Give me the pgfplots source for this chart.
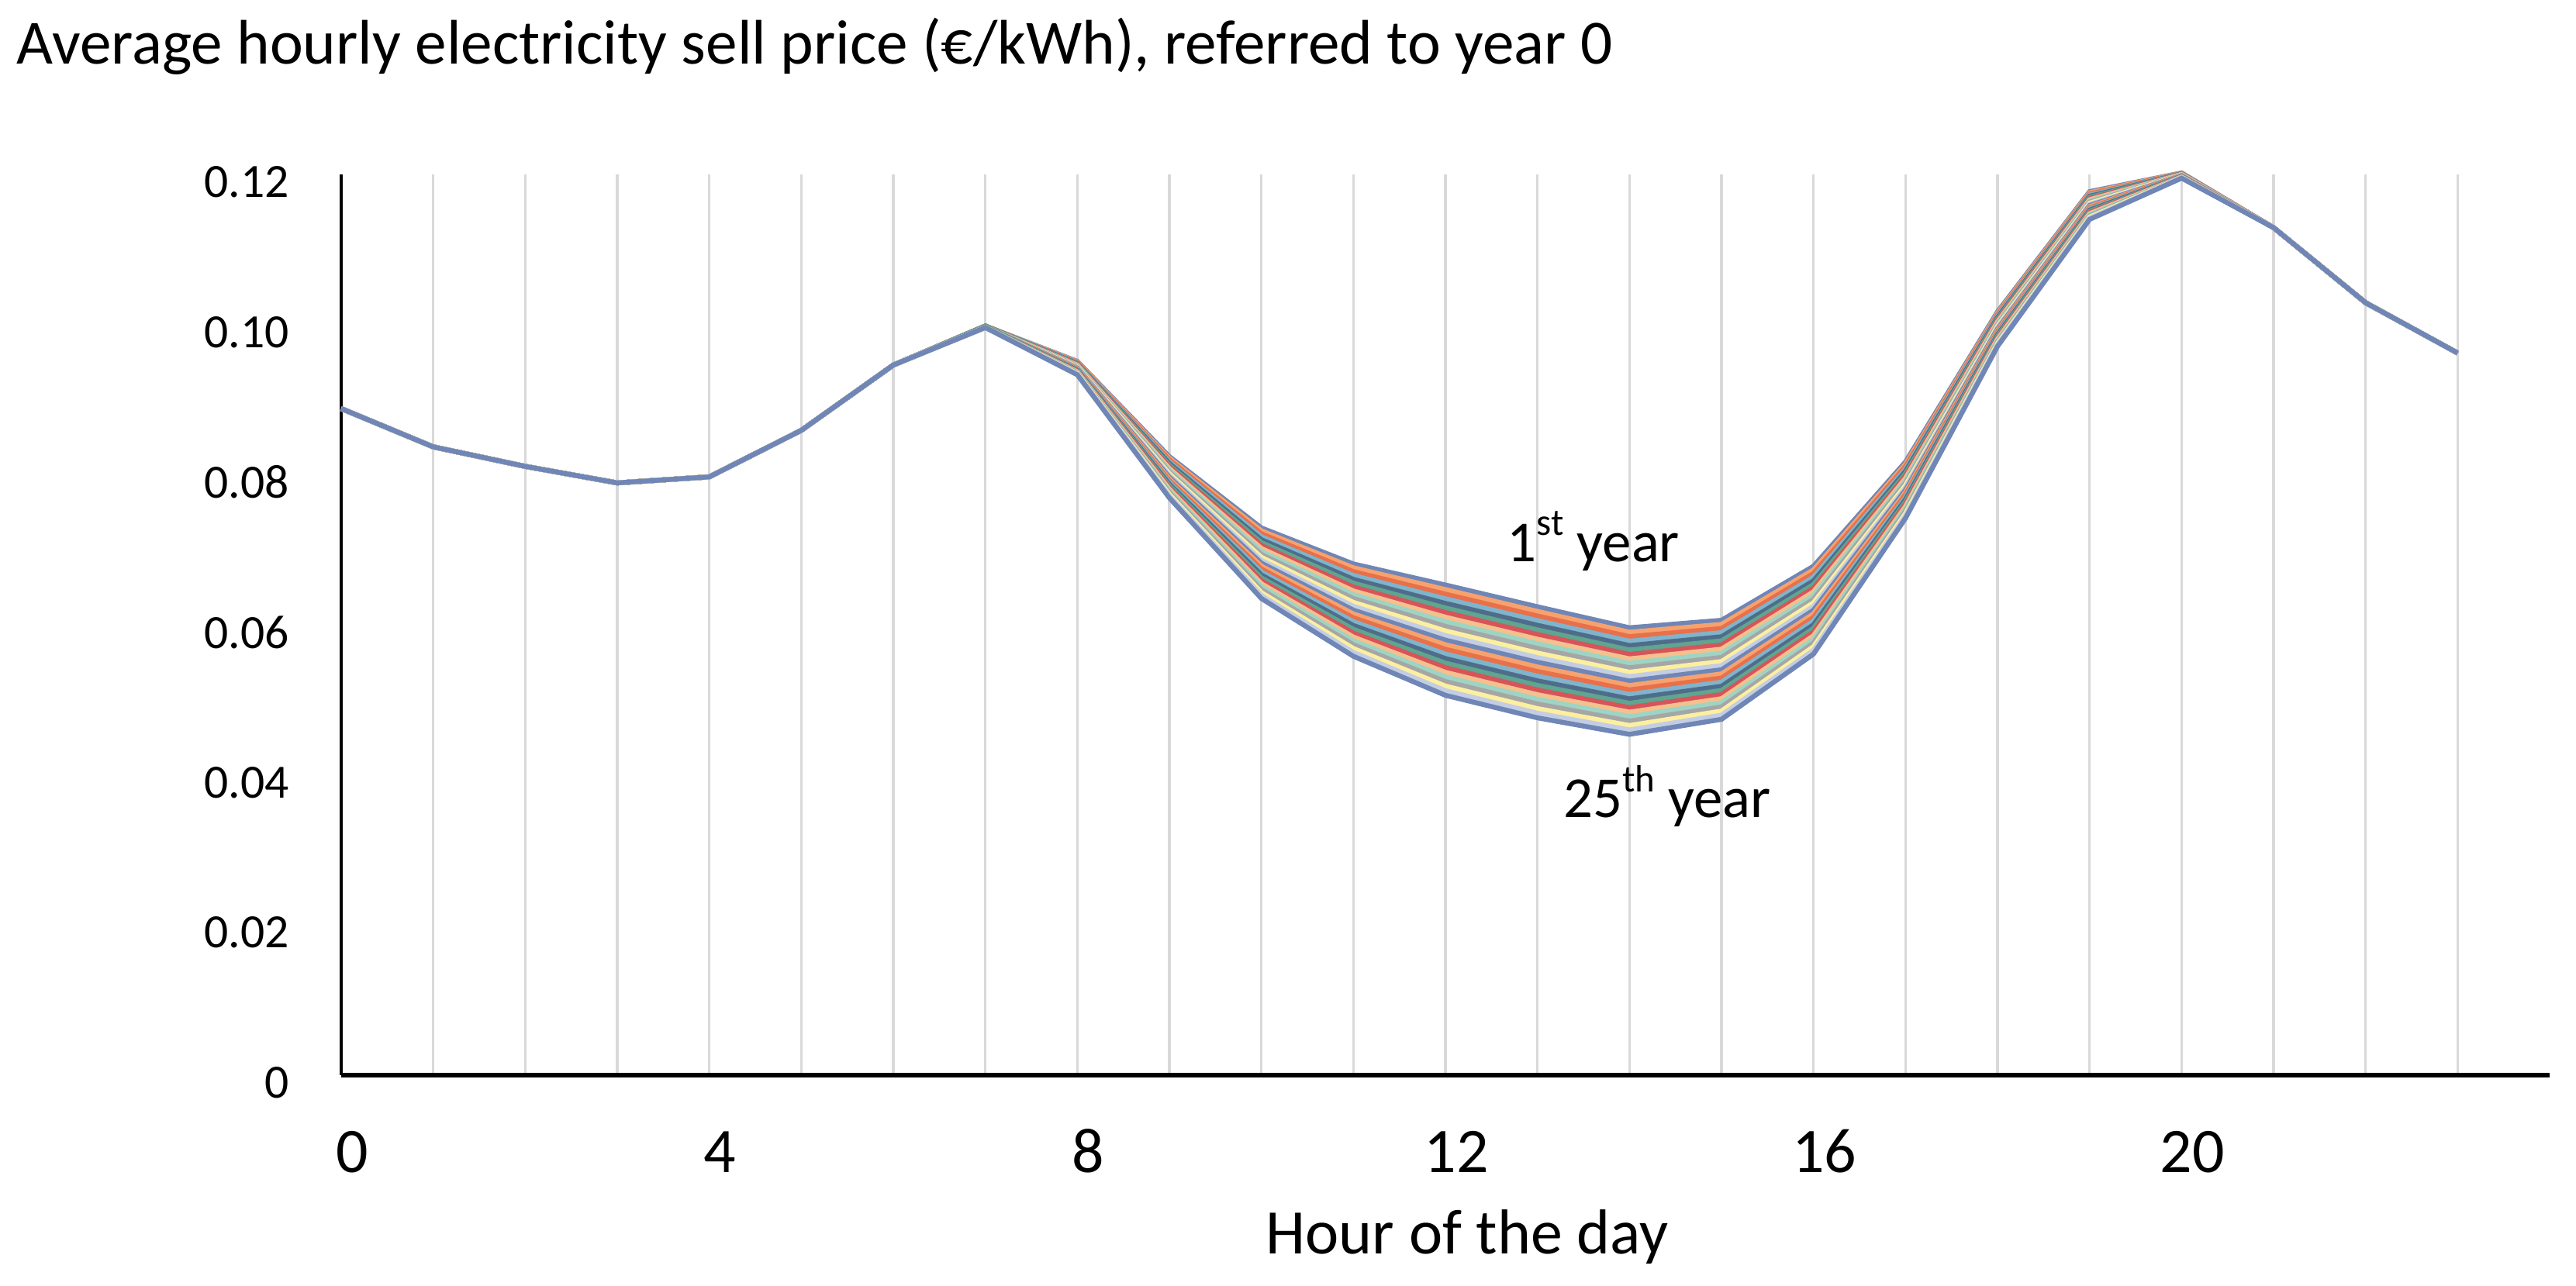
\documentclass[border=0pt]{standalone}
\usepackage{fontspec}
\setmainfont{Carlito}
\usepackage{pgfplots}
\usepackage{pgfplotstable}
\pgfplotsset{compat=1.18}

% line colours, they repeat every 12 years
\definecolor{c1}{HTML}{6F86B6}
\definecolor{c2}{HTML}{F7A26E}
\definecolor{c3}{HTML}{E8704A}
\definecolor{c4}{HTML}{7FB4CC}
\definecolor{c5}{HTML}{4F6D8A}
\definecolor{c6}{HTML}{5FA58F}
\definecolor{c7}{HTML}{D6545A}
\definecolor{c8}{HTML}{F5C08E}
\definecolor{c9}{HTML}{9ED4C4}
\definecolor{c10}{HTML}{A6A6A6}
\definecolor{c11}{HTML}{FCEFA0}
\definecolor{c12}{HTML}{C3CDE3}
\definecolor{gridgray}{HTML}{D9D9D9}

\pgfplotscreateplotcyclelist{yearcols}{c1\\c2\\c3\\c4\\c5\\c6\\c7\\c8\\c9\\c10\\c11\\c12\\}

% hourly price (EUR/kWh), one column per year (y1 = 1st year ... y25 = 25th year)
\pgfplotstableread{
h y1 y2 y3 y4 y5 y6 y7 y8 y9 y10 y11 y12 y13 y14 y15 y16 y17 y18 y19 y20 y21 y22 y23 y24 y25
0 0.0888 0.0888 0.0888 0.0888 0.0888 0.0888 0.0888 0.0888 0.0888 0.0888 0.0888 0.0888 0.0888 0.0888 0.0888 0.0888 0.0888 0.0888 0.0888 0.0888 0.0888 0.0888 0.0888 0.0888 0.0888
1 0.0837 0.0837 0.0837 0.0837 0.0837 0.0837 0.0837 0.0837 0.0837 0.0837 0.0837 0.0837 0.0837 0.0837 0.0837 0.0837 0.0837 0.0837 0.0837 0.0837 0.0837 0.0837 0.0837 0.0837 0.0837
2 0.0811 0.0811 0.0811 0.0811 0.0811 0.0811 0.0811 0.0811 0.0811 0.0811 0.0811 0.0811 0.0811 0.0811 0.0811 0.0811 0.0811 0.0811 0.0811 0.0811 0.0811 0.0811 0.0811 0.0811 0.0811
3 0.0789 0.0789 0.0789 0.0789 0.0789 0.0789 0.0789 0.0789 0.0789 0.0789 0.0789 0.0789 0.0789 0.0789 0.0789 0.0789 0.0789 0.0789 0.0789 0.0789 0.0789 0.0789 0.0789 0.0789 0.0789
4 0.0797 0.0797 0.0797 0.0797 0.0797 0.0797 0.0797 0.0797 0.0797 0.0797 0.0797 0.0797 0.0797 0.0797 0.0797 0.0797 0.0797 0.0797 0.0797 0.0797 0.0797 0.0797 0.0797 0.0797 0.0797
5 0.0859 0.0859 0.0859 0.0859 0.0859 0.0859 0.0859 0.0859 0.0859 0.0859 0.0859 0.0859 0.0859 0.0859 0.0859 0.0859 0.0859 0.0859 0.0859 0.0859 0.0859 0.0859 0.0859 0.0859 0.0859
6 0.0946 0.0946 0.0946 0.0946 0.0946 0.0946 0.0946 0.0946 0.0946 0.0946 0.0946 0.0946 0.0946 0.0946 0.0946 0.0946 0.0946 0.0946 0.0946 0.0946 0.0946 0.0946 0.0946 0.0946 0.0946
7 0.0998 0.0998 0.0998 0.0998 0.0998 0.0998 0.0997 0.0997 0.0997 0.0997 0.0997 0.0997 0.0997 0.0997 0.0997 0.0997 0.0997 0.0997 0.0996 0.0996 0.0996 0.0996 0.0996 0.0996 0.0996
8 0.09510 0.09503 0.09495 0.09488 0.09480 0.09473 0.09465 0.09458 0.09450 0.09443 0.09435 0.09428 0.09420 0.09413 0.09405 0.09398 0.09390 0.09383 0.09375 0.09368 0.09360 0.09353 0.09345 0.09338 0.09330
9 0.08240 0.08217 0.08194 0.08171 0.08148 0.08125 0.08103 0.08080 0.08057 0.08034 0.08011 0.07988 0.07965 0.07942 0.07919 0.07896 0.07873 0.07851 0.07828 0.07805 0.07782 0.07759 0.07736 0.07713 0.07690
10 0.07290 0.07251 0.07212 0.07172 0.07133 0.07094 0.07055 0.07016 0.06977 0.06937 0.06898 0.06859 0.06820 0.06781 0.06742 0.06702 0.06663 0.06624 0.06585 0.06546 0.06507 0.06467 0.06428 0.06389 0.06350
11 0.06810 0.06759 0.06708 0.06656 0.06605 0.06554 0.06503 0.06451 0.06400 0.06349 0.06298 0.06246 0.06195 0.06144 0.06093 0.06041 0.05990 0.05939 0.05888 0.05836 0.05785 0.05734 0.05683 0.05631 0.05580
12 0.06530 0.06469 0.06408 0.06346 0.06285 0.06224 0.06163 0.06101 0.06040 0.05979 0.05918 0.05856 0.05795 0.05734 0.05673 0.05611 0.05550 0.05489 0.05428 0.05366 0.05305 0.05244 0.05183 0.05121 0.05060
13 0.06240 0.06178 0.06117 0.06055 0.05993 0.05932 0.05870 0.05808 0.05747 0.05685 0.05623 0.05562 0.05500 0.05438 0.05377 0.05315 0.05253 0.05192 0.05130 0.05068 0.05007 0.04945 0.04883 0.04822 0.04760
14 0.05960 0.05901 0.05842 0.05782 0.05723 0.05664 0.05605 0.05546 0.05487 0.05427 0.05368 0.05309 0.05250 0.05191 0.05132 0.05072 0.05013 0.04954 0.04895 0.04836 0.04777 0.04717 0.04658 0.04599 0.04540
15 0.06060 0.06005 0.05950 0.05895 0.05840 0.05785 0.05730 0.05675 0.05620 0.05565 0.05510 0.05455 0.05400 0.05345 0.05290 0.05235 0.05180 0.05125 0.05070 0.05015 0.04960 0.04905 0.04850 0.04795 0.04740
16 0.06780 0.06731 0.06683 0.06634 0.06585 0.06536 0.06488 0.06439 0.06390 0.06341 0.06293 0.06244 0.06195 0.06146 0.06098 0.06049 0.06000 0.05951 0.05903 0.05854 0.05805 0.05756 0.05708 0.05659 0.05610
17 0.08170 0.08139 0.08108 0.08076 0.08045 0.08014 0.07983 0.07951 0.07920 0.07889 0.07858 0.07826 0.07795 0.07764 0.07733 0.07701 0.07670 0.07639 0.07608 0.07576 0.07545 0.07514 0.07483 0.07451 0.07420
18 0.10170 0.10151 0.10132 0.10113 0.10093 0.10074 0.10055 0.10036 0.10017 0.09998 0.09978 0.09959 0.09940 0.09921 0.09902 0.09883 0.09863 0.09844 0.09825 0.09806 0.09787 0.09768 0.09748 0.09729 0.09710
19 0.11770 0.11755 0.11739 0.11724 0.11708 0.11693 0.11677 0.11662 0.11647 0.11631 0.11616 0.11600 0.11585 0.11570 0.11554 0.11539 0.11523 0.11508 0.11492 0.11477 0.11462 0.11446 0.11431 0.11415 0.11400
20 0.12020 0.12017 0.12014 0.12011 0.12008 0.12005 0.12003 0.12000 0.11997 0.11994 0.11991 0.11988 0.11985 0.11982 0.11979 0.11976 0.11973 0.11970 0.11968 0.11965 0.11962 0.11959 0.11956 0.11953 0.11950
21 0.1129 0.1129 0.1129 0.1129 0.1129 0.1129 0.1129 0.1129 0.1129 0.1129 0.1129 0.1129 0.1129 0.1129 0.1129 0.1129 0.1129 0.1129 0.1129 0.1129 0.1129 0.1129 0.1129 0.1129 0.1129
22 0.1029 0.1029 0.1029 0.1029 0.1029 0.1029 0.1029 0.1029 0.1029 0.1029 0.1029 0.1029 0.1029 0.1029 0.1029 0.1029 0.1029 0.1029 0.1029 0.1029 0.1029 0.1029 0.1029 0.1029 0.1029
23 0.0962 0.0962 0.0962 0.0962 0.0962 0.0962 0.0962 0.0962 0.0962 0.0962 0.0962 0.0962 0.0962 0.0962 0.0962 0.0962 0.0962 0.0962 0.0962 0.0962 0.0962 0.0962 0.0962 0.0962 0.0962
}\prices

\begin{document}
\begin{tikzpicture}
\useasboundingbox (0,0) rectangle (474.57pt,-237pt);

\node[anchor=base west, inner sep=0pt, font=\fontsize{11.6}{14}\selectfont]
  at (2.9pt,-11.8pt) {Average hourly electricity sell price (€/kWh), referred to year 0};

\begin{axis}[
    at={(62.86pt,-198.14pt)}, anchor=south west,
    scale only axis,
    width=406.86pt, height=166pt,
    xmin=0, xmax=24, ymin=0, ymax=0.12,
    clip=false,
    axis x line*=bottom, axis y line*=left,
    x axis line style={-, black, line width=0.9pt},
    y axis line style={-, black, line width=0.6pt},
    major tick length=0pt,
    xtick={0,...,23},
    xticklabels={0,,,,4,,,,8,,,,12,,,,16,,,,20,,,},
    ytick={0,0.02,0.04,0.06,0.08,0.1,0.12},
    yticklabels={0,0.02,0.04,0.06,0.08,0.10,0.12},
    scaled y ticks=false,
    xmajorgrids=true,
    grid style={gridgray, line width=0.5pt},
    xticklabel style={anchor=base, inner sep=0pt, yshift=-17.9pt, xshift=2pt,
      font=\fontsize{11.7}{13}\selectfont},
    yticklabel style={anchor=east, inner sep=0pt, xshift=-9.4pt, yshift=-1.4pt,
      font=\fontsize{8.8}{10}\selectfont},
    xlabel={Hour of the day},
    xlabel style={at={(axis description cs:0.5,0)}, anchor=base, inner sep=0pt,
      yshift=-32.9pt, xshift=4pt, font=\fontsize{11.7}{13}\selectfont},
    cycle list name=yearcols,
]
\pgfplotsinvokeforeach{1,...,25}{
  \addplot+[mark=none, line width=0.9pt] table[x=h, y=y#1] {\prices};
}
\node[anchor=base west, inner sep=0pt, font=\fontsize{10.7}{12}\selectfont]
  at (axis cs:12.66,0.0684) {1\raisebox{0.45em}{\fontsize{7}{8}\selectfont st} year};
\node[anchor=base west, inner sep=0pt, font=\fontsize{10.7}{12}\selectfont]
  at (axis cs:13.27,0.0343) {25\raisebox{0.45em}{\fontsize{7}{8}\selectfont th} year};
\end{axis}
\end{tikzpicture}
\end{document}
